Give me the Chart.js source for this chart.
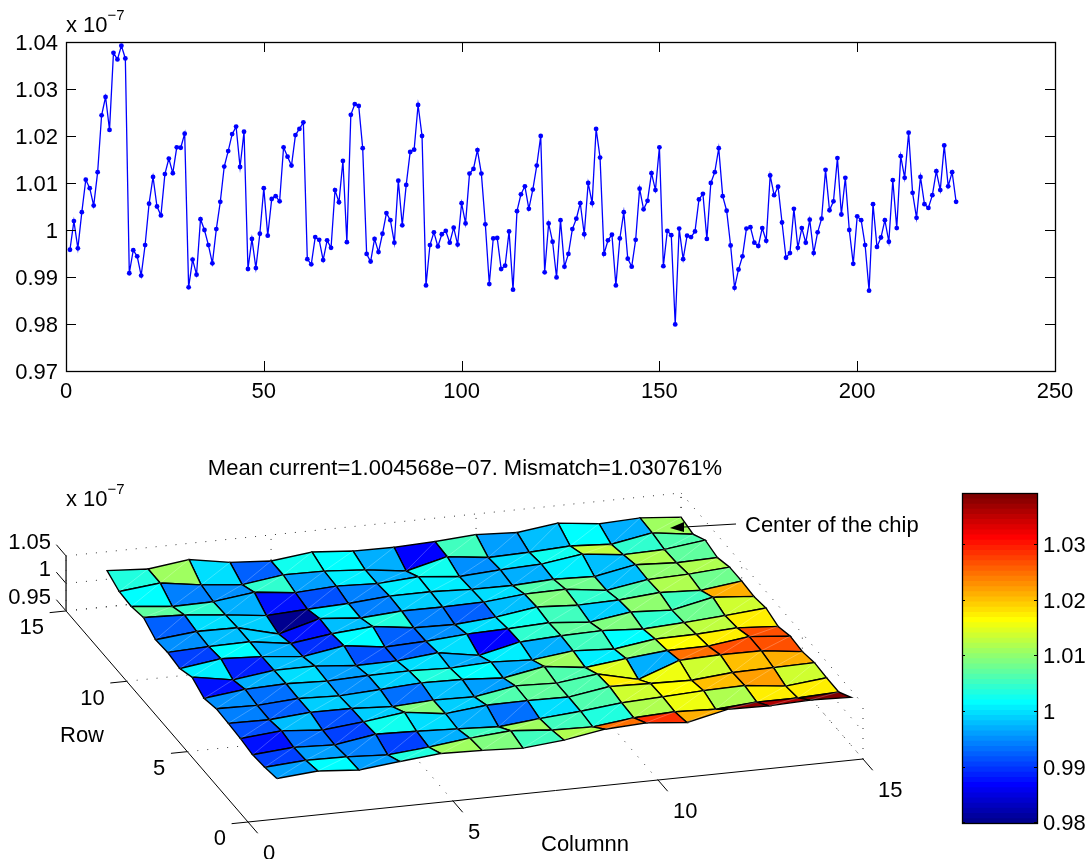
<!DOCTYPE html>
<html>
<head>
<meta charset="utf-8">
<title>Mean current and mismatch</title>
<script src="https://cdn.jsdelivr.net/npm/chart.js@4/dist/chart.umd.min.js"></script>
<style>
  html, body { margin: 0; padding: 0; background: #fff; }
  #page { position: relative; width: 1090px; height: 859px; overflow: hidden; }
  canvas { position: absolute; }
</style>
</head>
<body>
<div id="page">
  <canvas id="line-chart" width="1090" height="410" style="left:0;top:0"></canvas>
  <canvas id="surface-chart" width="930" height="419" style="left:0;top:440px"></canvas>
  <canvas id="colorbar-chart" width="150" height="370" style="left:940px;top:480px"></canvas>
</div>
<script>
// measured current of every cell (x 1e-7), one line per row of the chip
const current = [
  0.9958, 1.0019, 0.9961, 1.0038, 1.0107, 1.0089, 1.0052, 1.0123, 1.0244, 1.0283, 1.0213, 1.0377, 1.0363, 1.0392, 1.0365,
  0.9908, 0.9957, 0.9944, 0.9903, 0.9968, 1.0056, 1.0113, 1.0050, 1.0031, 1.0119, 1.0152, 1.0121, 1.0176, 1.0175, 1.0205,
  0.9878, 0.9937, 0.9905, 1.0023, 1.0000, 0.9968, 0.9929, 1.0002, 1.0060, 1.0135, 1.0168, 1.0204, 1.0220, 1.0134, 1.0209,
  0.9917, 0.9981, 0.9919, 0.9992, 1.0089, 0.9988, 1.0066, 1.0072, 1.0061, 1.0176, 1.0156, 1.0137, 1.0202, 1.0215, 1.0229,
  0.9938, 0.9927, 0.9985, 0.9979, 0.9936, 0.9978, 0.9962, 1.0085, 1.0059, 1.0147, 0.9974, 1.0245, 1.0268, 1.0264, 1.0174,
  0.9949, 0.9933, 0.9981, 0.9953, 0.9992, 1.0036, 1.0021, 0.9973, 1.0105, 1.0010, 1.0096, 1.0166, 1.0171, 1.0266, 1.0200,
  0.9882, 0.9968, 0.9995, 0.9965, 0.9991, 0.9998, 0.9973, 1.0005, 0.9969, 1.0057, 1.0014, 1.0120, 1.0130, 1.0170, 1.0120,
  1.0012, 0.9885, 0.9982, 0.9983, 0.9917, 0.9924, 0.9997, 0.9873, 1.0040, 1.0076, 1.0093, 1.0045, 1.0086, 1.0137, 1.0200,
  0.9910, 1.0014, 0.9975, 0.9899, 1.0021, 0.9922, 0.9949, 1.0002, 1.0024, 1.0057, 0.9991, 1.0100, 1.0057, 1.0215, 1.0154,
  0.9949, 0.9978, 0.9990, 0.9882, 0.9982, 1.0038, 0.9939, 0.9922, 0.9979, 1.0088, 1.0044, 1.0062, 1.0121, 1.0085, 1.0176,
  0.9923, 0.9998, 0.9989, 0.9799, 1.0003, 0.9938, 0.9988, 0.9985, 0.9997, 1.0065, 1.0077, 0.9981, 1.0100, 1.0123, 1.0174,
  1.0072, 1.0041, 0.9967, 0.9877, 0.9916, 0.9944, 1.0003, 1.0006, 0.9973, 0.9966, 1.0004, 0.9977, 1.0116, 1.0074, 1.0092,
  1.0016, 0.9941, 0.9951, 1.0045, 0.9962, 1.0004, 0.9973, 1.0022, 0.9951, 0.9995, 1.0024, 1.0128, 1.0042, 1.0061, 1.0153,
  1.0033, 1.0111, 1.0000, 0.9928, 1.0029, 1.0021, 0.9968, 0.9871, 1.0055, 0.9964, 0.9984, 1.0021, 0.9975, 1.0106, 1.0004,
  1.0157, 1.0111, 1.0207, 1.0079, 1.0026, 1.0113, 1.0055, 1.0047, 1.0074, 1.0125, 1.0085, 1.0180, 1.0093, 1.0123, 1.0060
];
const gridSize = 15;

const lineXTicks = [0, 50, 100, 150, 200, 250];
const lineYTicks = [0.97, 0.98, 0.99, 1, 1.01, 1.02, 1.03, 1.04];
const columnTicks = [0, 5, 10, 15];
const rowTicks = [0, 5, 10, 15];
const heightTicks = [0.95, 1, 1.05];
const colorbarTicks = [0.98, 0.99, 1, 1.01, 1.02, 1.03];

const titleText = 'Mean current=1.004568e\u221207. Mismatch=1.030761%';
const noteText = 'Center of the chip';
const rowLabel = 'Row';
const columnLabel = 'Columnn';

const fontFamily = '"Liberation Sans", Arial, sans-serif';
const fontSize = 22;
const titlePadding = 16;
const titleHeight = titlePadding + fontSize * 1.2;
const textNudge = 1.7; // canvas middle baseline sits a little above the digit centre

Chart.defaults.font.family = fontFamily;
Chart.defaults.font.size = fontSize;
Chart.defaults.color = '#000';
Chart.defaults.animation = false;

const colorMin = Math.min(...current);
const colorMax = Math.max(...current);
const colorLevels = 64;

// matlab jet colormap, level is 0..63
function jetColor(level) {
  const ramp = function (k) {
    if (k <= 0) return 0;
    if (k <= 16) return k / 16;
    if (k <= 31) return 1;
    if (k <= 47) return (48 - k) / 16;
    return 0;
  };
  const j = level + 1;
  const channel = (k) => Math.round(ramp(k) * 255);
  return `rgb(${channel(j - 24)},${channel(j - 8)},${channel(j + 8)})`;
}

function colorForValue(value) {
  let level = Math.floor((value - colorMin) / (colorMax - colorMin) * colorLevels);
  return jetColor(Math.min(level, colorLevels - 1));
}

function niceTick(value) {
  return String(+Number(value).toFixed(2));
}

// box round the plot and the inward tick marks matlab draws on every side
const framePlugin = {
  id: 'frame',
  afterDraw(chart, args, options) {
    const ctx = chart.ctx;
    const area = chart.chartArea;
    ctx.save();
    ctx.strokeStyle = '#000';
    ctx.lineWidth = 1.3;
    ctx.strokeRect(Math.round(area.left) + 0.5, Math.round(area.top) + 0.5,
      Math.round(area.right - area.left), Math.round(area.bottom - area.top));
    ctx.lineWidth = 1;
    ctx.beginPath();
    for (let id in chart.scales) {
      const scale = chart.scales[id];
      if (!scale.options.display) continue;
      for (let tick of scale.ticks) {
        const p = Math.round(scale.getPixelForValue(tick.value)) + 0.5;
        if (scale.isHorizontal()) {
          ctx.moveTo(p, area.bottom);
          ctx.lineTo(p, area.bottom - options.tick);
          ctx.moveTo(p, area.top);
          ctx.lineTo(p, area.top + options.tick);
        } else {
          ctx.moveTo(area.left, p);
          ctx.lineTo(area.left + options.tick, p);
          ctx.moveTo(area.right, p);
          ctx.lineTo(area.right - options.tick, p);
        }
      }
    }
    ctx.stroke();
    ctx.restore();
  }
};

function drawExponent(ctx, x, y) {
  ctx.save();
  ctx.fillStyle = '#000';
  ctx.textAlign = 'left';
  ctx.textBaseline = 'alphabetic';
  ctx.font = fontSize + 'px ' + fontFamily;
  ctx.fillText('x 10', x, y);
  const width = ctx.measureText('x 10').width;
  ctx.font = (fontSize * 0.68) + 'px ' + fontFamily;
  ctx.fillText('\u22127', x + width, y - 12);
  ctx.restore();
}

const lineExponentPlugin = {
  id: 'lineExponent',
  afterDraw(chart) {
    drawExponent(chart.ctx, 66, 32);
  }
};

// top panel
new Chart(document.getElementById('line-chart'), {
  type: 'line',
  data: {
    datasets: [{
      data: current.map((value, i) => ({ x: i + 1, y: value })),
      borderColor: '#0000ff',
      backgroundColor: '#0000ff',
      borderWidth: 1.3,
      pointRadius: 2.4,
      pointBorderWidth: 0,
      tension: 0
    }]
  },
  options: {
    responsive: false,
    layout: { padding: { left: 0, top: 42, right: 35, bottom: 0 } },
    plugins: { legend: { display: false }, tooltip: { enabled: false }, frame: { tick: 10 } },
    scales: {
      x: {
        type: 'linear',
        min: lineXTicks[0],
        max: lineXTicks[lineXTicks.length - 1],
        grid: { display: false, drawTicks: false },
        border: { display: false },
        afterBuildTicks: (scale) => { scale.ticks = lineXTicks.map((value) => ({ value })); },
        afterFit: (scale) => { scale.height = 39; },
        ticks: { padding: 8, maxRotation: 0, callback: niceTick }
      },
      y: {
        min: lineYTicks[0],
        max: lineYTicks[lineYTicks.length - 1],
        grid: { display: false, drawTicks: false },
        border: { display: false },
        afterBuildTicks: (scale) => { scale.ticks = lineYTicks.map((value) => ({ value })); },
        afterFit: (scale) => { scale.width = 66; },
        ticks: { padding: 8, labelOffset: textNudge, callback: niceTick }
      }
    }
  },
  plugins: [framePlugin, lineExponentPlugin]
});

// orthographic view of the surface
function project(column, row, height) {
  return {
    x: 248 + 41 * column - 12.13 * row,
    y: 822 - 4.2 * column - 14.07 * row - (height - 0.95) * 550
  };
}

function cellValue(row, column) {
  return current[(row - 1) * gridSize + (column - 1)];
}

function polyline(points, style) {
  return Object.assign({
    data: points,
    showLine: true,
    pointRadius: 0,
    tension: 0,
    fill: false,
    borderColor: '#000',
    borderWidth: 1
  }, style);
}

const surfaceDatasets = [];

// faint seam along each facet, same as the triangle split in the original renderer
const seamPoints = [];
for (let row = 1; row < gridSize; row++) {
  for (let column = 1; column < gridSize; column++) {
    seamPoints.push(project(column, row, cellValue(row, column)));
    seamPoints.push(project(column + 1, row + 1, cellValue(row + 1, column + 1)));
    seamPoints.push({ x: NaN, y: NaN });
  }
}
surfaceDatasets.push(polyline(seamPoints, { borderColor: 'rgba(255,255,255,0.35)', borderWidth: 0.7 }));

// facets front to back, chart.js paints the first dataset last
for (let row = 1; row < gridSize; row++) {
  for (let column = 1; column < gridSize; column++) {
    const color = colorForValue(cellValue(row, column));
    surfaceDatasets.push(polyline([
      project(column, row, cellValue(row, column)),
      project(column + 1, row, cellValue(row, column + 1)),
      project(column + 1, row + 1, cellValue(row + 1, column + 1)),
      project(column, row + 1, cellValue(row + 1, column)),
      project(column, row, cellValue(row, column))
    ], { fill: 'shape', backgroundColor: color, borderWidth: 1.4 }));
  }
}

const zLow = heightTicks[0];
const zHigh = heightTicks[heightTicks.length - 1];
const dotted = { borderDash: [1, 9], borderWidth: 1, borderColor: '#333' };
const columnEnd = columnTicks[columnTicks.length - 1];
const rowEnd = rowTicks[rowTicks.length - 1];

// dotted grid on the floor and the two back walls
for (let column of columnTicks) {
  if (column > 0) surfaceDatasets.push(polyline([project(column, 0, zLow), project(column, rowEnd, zLow)], dotted));
  surfaceDatasets.push(polyline([project(column, rowEnd, zLow), project(column, rowEnd, zHigh)], dotted));
}
for (let row of rowTicks) {
  if (row > 0) surfaceDatasets.push(polyline([project(0, row, zLow), project(columnEnd, row, zLow)], dotted));
  surfaceDatasets.push(polyline([project(columnEnd, row, zLow), project(columnEnd, row, zHigh)], dotted));
}
for (let height of heightTicks) {
  surfaceDatasets.push(polyline([project(0, rowEnd, height), project(columnEnd, rowEnd, height)], dotted));
  surfaceDatasets.push(polyline([project(columnEnd, rowEnd, height), project(columnEnd, 0, height)], dotted));
}

// solid axes and their outward ticks
surfaceDatasets.push(polyline([project(0, 0, zLow), project(columnEnd, 0, zLow)]));
surfaceDatasets.push(polyline([project(0, 0, zLow), project(0, rowEnd, zLow)]));
surfaceDatasets.push(polyline([project(0, rowEnd, zLow), project(0, rowEnd, zHigh)], { borderColor: '#333', borderWidth: 1.5 }));
for (let column of columnTicks) {
  surfaceDatasets.push(polyline([project(column, 0, zLow), project(column, -0.8, zLow)]));
}
for (let row of rowTicks) {
  surfaceDatasets.push(polyline([project(0, row, zLow), project(-0.4, row, zLow)]));
}
for (let height of heightTicks) {
  surfaceDatasets.push(polyline([project(0, rowEnd, height), project(0, rowEnd + 0.8, height)]));
}

// tick labels, axis labels, exponent and the arrow note of the 3d panel
const surfaceTextPlugin = {
  id: 'surfaceText',
  afterDraw(chart) {
    const ctx = chart.ctx;
    const sx = chart.scales.x;
    const sy = chart.scales.y;
    const put = function (text, x, y, align) {
      ctx.textAlign = align;
      ctx.fillText(text, sx.getPixelForValue(x), sy.getPixelForValue(y + textNudge));
    };
    ctx.save();
    ctx.fillStyle = '#000';
    ctx.strokeStyle = '#000';
    ctx.textBaseline = 'middle';
    ctx.font = fontSize + 'px ' + fontFamily;
    for (let column of columnTicks) {
      const p = project(column, 0, zLow);
      put(niceTick(column), p.x + 15, p.y + 30, 'left');
    }
    for (let row of rowTicks) {
      const p = project(0, row, zLow);
      put(niceTick(row), p.x - 22, p.y + 15.5, 'right');
    }
    for (let height of heightTicks) {
      const p = project(0, rowEnd, height);
      put(niceTick(height), p.x - 15, p.y - 15, 'right');
    }
    put(rowLabel, 104, 734, 'right');
    put(columnLabel, 541, 843, 'left');
    put(noteText, 745, 524, 'left');

    // arrow from the note to the far corner of the surface
    const tip = { x: sx.getPixelForValue(670), y: sy.getPixelForValue(528) };
    const base = { x: sx.getPixelForValue(684), y: sy.getPixelForValue(527) };
    ctx.lineWidth = 1;
    ctx.beginPath();
    ctx.moveTo(base.x, base.y);
    ctx.lineTo(sx.getPixelForValue(736), sy.getPixelForValue(524));
    ctx.stroke();
    ctx.beginPath();
    ctx.moveTo(tip.x, tip.y);
    ctx.lineTo(base.x, base.y - 5);
    ctx.lineTo(base.x, base.y + 5);
    ctx.closePath();
    ctx.fill();
    ctx.restore();

    drawExponent(ctx, sx.getPixelForValue(66), sy.getPixelForValue(505.7));
  }
};

new Chart(document.getElementById('surface-chart'), {
  type: 'scatter',
  data: { datasets: surfaceDatasets },
  options: {
    responsive: false,
    spanGaps: false,
    plugins: {
      legend: { display: false },
      tooltip: { enabled: false },
      title: {
        display: true,
        text: titleText,
        font: { size: fontSize, weight: 'normal' },
        padding: { top: titlePadding, bottom: 0 }
      }
    },
    // scales run in page pixels, the view projection above feeds them
    scales: {
      x: { type: 'linear', display: false, min: 0, max: 930 },
      y: { type: 'linear', display: false, reverse: true, min: 440 + titleHeight, max: 859 }
    }
  },
  plugins: [surfaceTextPlugin]
});

// colorbar: one floating bar per level, upper bars cover the lower ones so no seams show
const colorbarDatasets = [];
for (let level = 0; level < colorLevels; level++) {
  const low = colorMin + (colorMax - colorMin) * level / colorLevels;
  colorbarDatasets.push({
    data: [[low, colorMax]],
    backgroundColor: jetColor(level),
    borderWidth: 0,
    grouped: false,
    barPercentage: 1,
    categoryPercentage: 1,
    order: colorLevels - level
  });
}

new Chart(document.getElementById('colorbar-chart'), {
  type: 'bar',
  data: { labels: [''], datasets: colorbarDatasets },
  options: {
    responsive: false,
    layout: { padding: { left: 22, top: 13, right: 0, bottom: 27 } },
    plugins: { legend: { display: false }, tooltip: { enabled: false }, frame: { tick: 3 } },
    scales: {
      x: { display: false },
      y: {
        position: 'right',
        min: colorMin,
        max: colorMax,
        grid: { display: false, drawTicks: false },
        border: { display: false },
        afterBuildTicks: (scale) => { scale.ticks = colorbarTicks.map((value) => ({ value })); },
        afterFit: (scale) => { scale.width = 53; scale.paddingTop = 0; scale.paddingBottom = 0; },
        ticks: { padding: 6, labelOffset: textNudge, callback: niceTick }
      }
    }
  },
  plugins: [framePlugin]
});
</script>
</body>
</html>
